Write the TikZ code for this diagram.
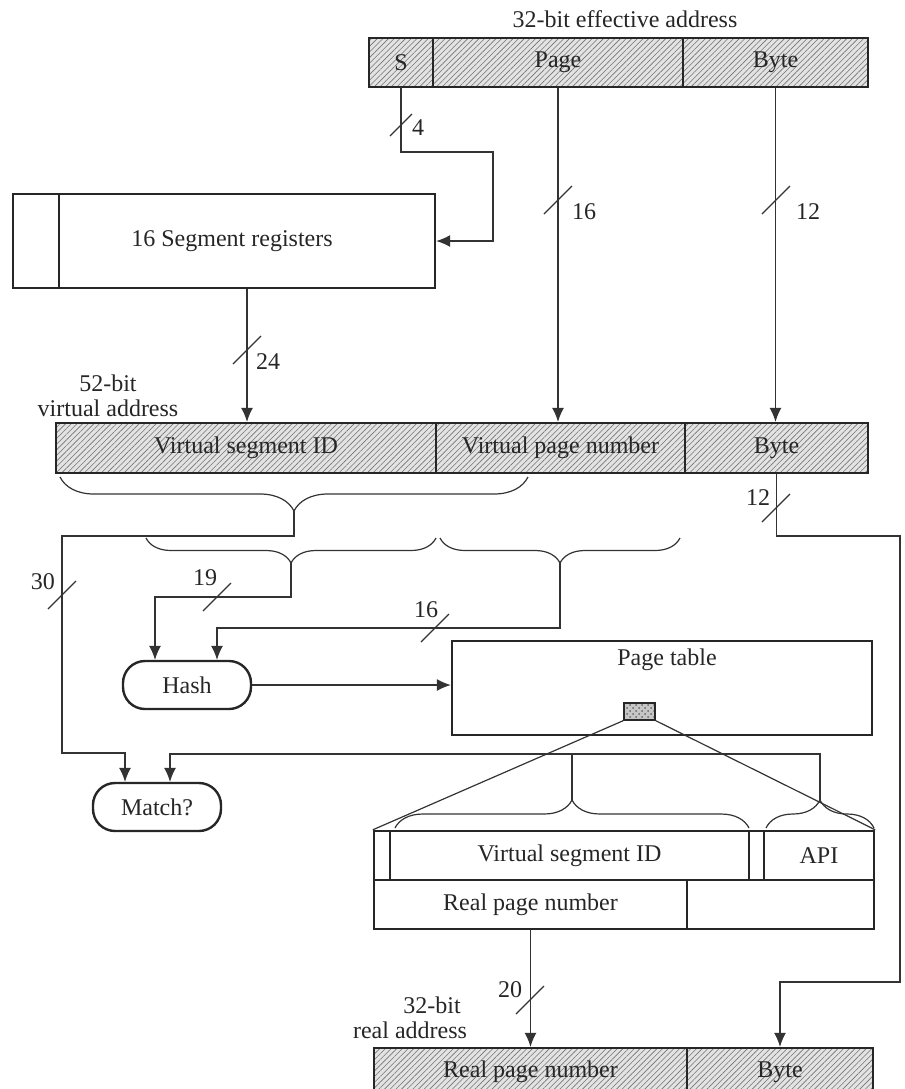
\documentclass[tikz,border=0pt]{standalone}
\usepackage{fontspec}
\setmainfont{Liberation Serif}
\usetikzlibrary{arrows.meta,patterns,patterns.meta,decorations.pathreplacing,fit,calc}
\begin{document}
\begin{tikzpicture}[x=0.5pt,y=-0.5pt,
  font=\fontsize{12pt}{14pt}\selectfont,
  every node/.append style={text=black!85},
  every label/.append style={inner sep=0pt},
  cell/.style={draw=black!85, line width=1.2pt, inner sep=0pt},
  hatched/.style={cell, preaction={fill=gray!22}, pattern={Lines[angle=45,distance=2pt,line width=0.3pt]}, pattern color=black!55},
  conn/.style={draw=black!80, line width=0.6pt},
  arr/.style={conn, -{Latex[length=7pt,width=6pt]}},
  slash/.style={draw=black!80, line width=0.6pt},
  brd/.style={draw=black!80, line width=0.6pt, decorate, decoration={brace, mirror, amplitude=#1}},
  bru/.style={draw=black!80, line width=0.6pt, decorate, decoration={brace, amplitude=#1}},
  rbox/.style={draw=black!85, line width=1.2pt, rounded corners=11pt, minimum width=64pt, minimum height=24pt, inner sep=0pt}
]
\useasboundingbox (0,0) rectangle (905,1089);

% 32-bit effective address
\node (eaT) at (625,19) {32-bit effective address};
\node[hatched, fit={(369,38) (433,87)}, label={center:S}] (eaS) {};
\node[hatched, fit={(433,38) (683,87)}, label={center:Page}] (eaPage) {};
\node[hatched, fit={(683,38) (868,87)}, label={center:Byte}] (eaByte) {};

% segment registers
\node[cell, fit={(13,194) (59,288)}] (segleft) {};
\node[cell, fit={(59,194) (435,288)}] (segmain) {};
\node (segtxt) at (232,241) {16 Segment registers};

% 52-bit virtual address
\node (v52a) at (108,383) {52-bit};
\node (v52b) at (108,408) {virtual address};
\node[hatched, fit={(56,423) (436,473)}, label={center:Virtual segment ID}] (vSeg) {};
\node[hatched, fit={(436,423) (685,473)}, label={center:Virtual page number}] (vPage) {};
\node[hatched, fit={(685,423) (868,473)}, label={center:Byte}] (vByte) {};

% braces under virtual address
\draw[brd=17pt] (60,477) -- (528,477);
\draw[brd=12.5pt] (146,538) -- (436,538);
\draw[brd=12.5pt] (440,538) -- (680,538);
\coordinate (b1tip) at (294,511);
\coordinate (b2atip) at (291,563);
\coordinate (b2btip) at (560,563);

% hash, match
\node[rbox] (hash) at (187,685) {Hash};
\node[rbox] (match) at (157,807) {Match?};

% page table
\node[cell, fit={(452,641) (872,735)}] (pt) {};
\node (ptl) at (667,660) {Page table};
\node[draw=black!85, line width=0.6pt, inner sep=0pt, preaction={fill=gray!45}, pattern=crosshatch dots, pattern color=black!60, fit={(624,703) (655,720)}] (entry) {};

% page table entry
\node[cell, fit={(374,831) (390,880)}] (pteA) {};
\node[cell, fit={(390,831) (749,880)}, label={center:Virtual segment ID}] (pteVS) {};
\node[cell, fit={(749,831) (764,880)}] (pteN) {};
\node[cell, fit={(764,831) (874,880)}, label={center:API}] (pteAPI) {};
\node[cell, fit={(374,880) (687,929)}, label={center:Real page number}] (pteRPN) {};
\node[cell, fit={(687,880) (874,929)}] (pteE) {};
\draw[bru=14pt] (395,828) -- (749,828);
\draw[bru=14pt] (766,828) -- (874,828);
\coordinate (bAtip) at (572,800);
\coordinate (bBtip) at (820,800);

% 32-bit real address
\node (r32a) at (432,1005) {32-bit};
\node (r32b) at (410,1030) {real address};
\node[hatched, fit={(374,1048) (687,1096)}, label={center:Real page number}] (rRPN) {};
\node[hatched, fit={(687,1048) (873,1096)}, label={center:Byte}] (rByte) {};

% bend points
\coordinate (sbend) at (493,152);
\coordinate (k1) at (62,536);
\coordinate (k2) at (62,753);
\coordinate (mx1) at (125,0);
\coordinate (mx2) at (170,754);
\coordinate (r19) at (155,597);
\coordinate (r16) at (217,628);
\coordinate (q1) at (900,536);
\coordinate (q2) at (900,982);

% connectors
\draw[arr] (eaS.south) |- (sbend) |- (segmain.east);
\draw[arr] (eaPage.south) -- (eaPage.south |- vPage.north);
\draw[arr] (eaByte.south) -- (eaByte.south |- vByte.north);
\draw[arr] (segmain.south) -- (segmain.south |- vSeg.north);
\draw[arr] (b1tip) |- (k1) -- (k2) -| (match.north -| mx1);
\draw[arr] (b2atip) |- (r19) -- (hash.north -| r19);
\draw[arr] (b2btip) |- (r16) -- (hash.north -| r16);
\draw[arr] (hash.east) -- (hash.east -| pt.west);
\draw[conn] (entry.south west) -- (pteA.north west);
\draw[conn] (entry.south east) -- (pteAPI.north east);
\draw[conn] (bAtip) -- (bAtip |- mx2);
\draw[arr] (bBtip) |- (mx2) -- (match.north -| mx2);
\draw[arr] (pteRPN.south) -- (pteRPN.south |- rRPN.north);
\draw[arr] (vByte.south) |- (q1) -- (q2) -| (rByte.north);

% bit-width slashes and labels
\draw[slash] (401,125) ++(-11,11) -- ++(22,-22);
\node (l4) at (418,128) {4};
\draw[slash] (558,200) ++(-14,14) -- ++(28,-28);
\node (l16a) at (584,212) {16};
\draw[slash] (776,200) ++(-14,14) -- ++(28,-28);
\node (l12a) at (808,212) {12};
\draw[slash] (247,350) ++(-14,14) -- ++(28,-28);
\node (l24) at (268,362) {24};
\draw[slash] (62,595) ++(-14,14) -- ++(28,-28);
\node (l30) at (43,582) {30};
\draw[slash] (217,597) ++(-14,14) -- ++(28,-28);
\node (l19) at (205,578) {19};
\draw[slash] (435,628) ++(-14,14) -- ++(28,-28);
\node (l16b) at (426,610) {16};
\draw[slash] (776,508) ++(-14,14) -- ++(28,-28);
\node (l12b) at (758,498) {12};
\draw[slash] (530,1000) ++(-14,14) -- ++(28,-28);
\node (l20) at (510,990) {20};
\end{tikzpicture}
\end{document}
